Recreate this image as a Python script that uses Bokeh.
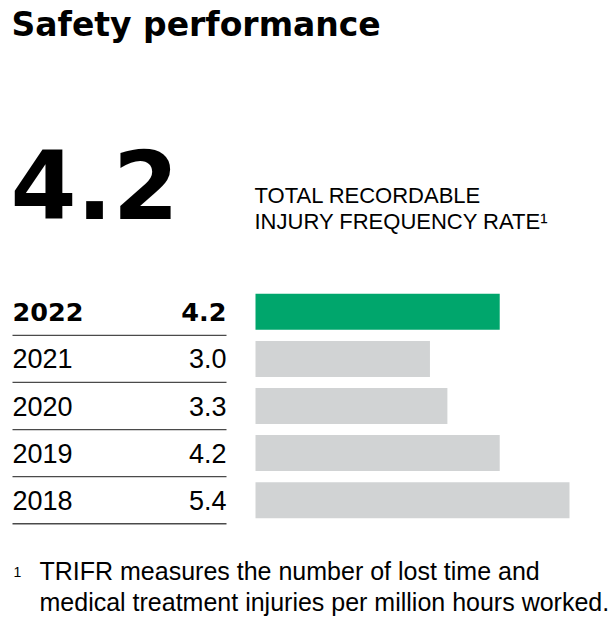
from bokeh.plotting import figure
from bokeh.models import Range1d, ColumnDataSource
from bokeh.core.properties import value
from bokeh.embed import file_html
from bokeh.resources import INLINE

# ---- data ----
title = "Safety performance"
years = ["2022", "2021", "2020", "2019", "2018"]
trifr = [4.2, 3.0, 3.3, 4.2, 5.4]
headline_label = ["TOTAL RECORDABLE", "INJURY FREQUENCY RATE\u00b9"]
footnote_mark = "1"
footnote_lines = ["TRIFR measures the number of lost time and",
                  "medical treatment injuries per million hours worked."]

GREEN = "#00A66C"
GRAY = "#D1D3D4"
INK = "#000000"

W, H = 614, 623
p = figure(width=W, height=H, output_backend="svg", toolbar_location=None,
           x_range=Range1d(0, W), y_range=Range1d(H, 0),
           x_axis_location=None, y_axis_location=None, min_border=0)
p.grid.visible = False
p.outline_line_color = None
p.background_fill_color = "white"
p.border_fill_color = "white"

# value scale for bars: 0 -> x 255, 5.4 -> x 569
ppu = (569 - 255) / 5.4
p.extra_x_ranges = {"val": Range1d(-255 / ppu, (W - 255) / ppu)}
# row scale: row 0 centre at y 311.3, 47.1 px per row
rp = 47.1
p.extra_y_ranges = {"rows": Range1d((H - 311.3) / rp, -311.3 / rp)}

idx = list(range(len(years)))
colors = [GREEN if i == 0 else GRAY for i in idx]
src = ColumnDataSource(dict(y=idx, v=trifr, c=colors,
                            sep=[i + 0.5 for i in idx]))

p.hbar(y="y", left=0, right="v", height=36 / rp, fill_color="c", line_color=None,
       source=src, x_range_name="val", y_range_name="rows")

# separators
p.segment(x0=12, x1=226, y0="sep", y1="sep", line_color="#4a4a4a", line_width=1.3,
          source=src, y_range_name="rows")

# row labels
reg = ColumnDataSource(dict(y=idx[1:], yr=years[1:], vt=[f"{v:.1f}" for v in trifr[1:]]))
p.text(x=12, y="y", text="yr", source=reg, y_range_name="rows",
       text_font=value("Liberation Sans"), text_font_size="27px",
       text_baseline="middle", text_align="left", text_color=INK)
p.text(x=226, y="y", text="vt", source=reg, y_range_name="rows",
       text_font=value("Liberation Sans"), text_font_size="27px",
       text_baseline="middle", text_align="right", text_color=INK)
p.text(x=[12], y=[0], text=[years[0]], y_range_name="rows",
       text_font=value("DejaVu Sans"), text_font_style="bold", text_font_size="25.5px",
       text_baseline="middle", text_align="left", text_color=INK)
p.text(x=[226], y=[0], text=[f"{trifr[0]:.1f}"], y_range_name="rows",
       text_font=value("DejaVu Sans"), text_font_style="bold", text_font_size="25.5px",
       text_baseline="middle", text_align="right", text_color=INK)

# title
p.text(x=[11], y=[23.5], text=[title], text_font=value("DejaVu Sans"),
       text_font_style="bold", text_font_size="33px", text_baseline="middle",
       text_color=INK)

# big headline number
p.text(x=[10], y=[184], text=[f"{trifr[0]:.1f}"], text_font=value("DejaVu Sans"),
       text_font_style="bold", text_font_size="95px", text_baseline="middle",
       text_color=INK)

# headline label
p.text(x=[254, 254], y=[195, 221], text=headline_label,
       text_font=value("Liberation Sans"), text_font_size="22px",
       text_baseline="middle", text_color=INK)

# footnote
p.text(x=[13], y=[571], text=[footnote_mark], text_font=value("Liberation Sans"),
       text_font_size="14px", text_baseline="middle", text_color=INK)
p.text(x=[39, 39], y=[570.5, 601], text=footnote_lines,
       text_font=value("Liberation Sans"), text_font_size="25px",
       text_baseline="middle", text_color=INK)

open("out.html", "w").write(file_html(p, INLINE))
